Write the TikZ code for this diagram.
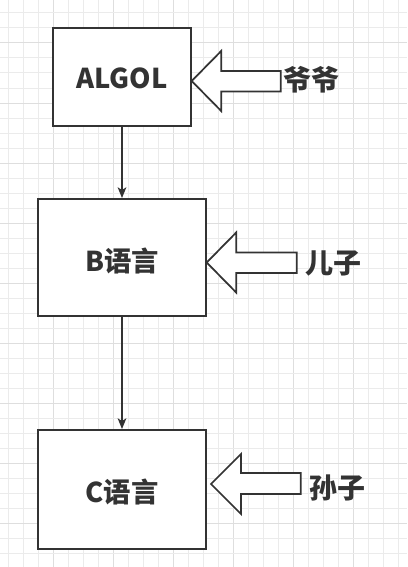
\documentclass[tikz,border=0pt]{standalone}
\usepackage{fontspec}
\newfontfamily\cjk{Noto Sans CJK SC}
\usetikzlibrary{arrows.meta}
\definecolor{ink}{HTML}{333333}
\definecolor{gridminor}{HTML}{EBEBEB}
\definecolor{gridmajor}{HTML}{DEDEDE}
\tikzset{
  box/.style={draw=ink, line width=1.5pt, fill=white, rectangle, inner sep=0pt},
  boxtxt/.style={font=\cjk\bfseries\fontsize{20.5}{24}\selectfont, text=ink, inner sep=0pt},
  conn/.style={draw=ink, line width=1.1pt, -{Stealth[length=8pt,width=6.5pt,inset=2pt]}},
  blk/.style={draw=ink, line width=1.3pt, fill=white, line join=miter},
  lbl/.style={font=\cjk\bfseries\fontsize{21}{24}\selectfont, text=ink, inner sep=0pt},
}
\begin{document}
\begin{tikzpicture}[x=0.75pt, y=-0.75pt]
\useasboundingbox (0,0) rectangle (407,567);
\fill[white] (0,0) rectangle (407,567);
% grid
\foreach \i in {0,...,26} {
  \pgfmathtruncatemacro{\m}{mod(\i,4)}
  \ifnum\m=3 \draw[gridmajor, line width=0.75pt] ({8+15*\i},0) -- ({8+15*\i},567);
  \else \draw[gridminor, line width=0.75pt] ({8+15*\i},0) -- ({8+15*\i},567); \fi
}
\foreach \j in {0,...,37} {
  \pgfmathtruncatemacro{\m}{mod(\j,4)}
  \ifnum\m=2 \draw[gridmajor, line width=0.75pt] (0,{13+15*\j}) -- (407,{13+15*\j});
  \else \draw[gridminor, line width=0.75pt] (0,{13+15*\j}) -- (407,{13+15*\j}); \fi
}
% boxes
\node[box, minimum width=103.5pt, minimum height=73.5pt] (algol) at (122,77) {};
\node[box, minimum width=126pt, minimum height=87.75pt] (b) at (122,257.5) {};
\node[box, minimum width=126pt, minimum height=89.25pt] (c) at (122,489.5) {};
\node[boxtxt] (algoltxt) at ([yshift=-0.75pt]algol.center) {ALGOL};
\node[boxtxt] (btxt) at ([yshift=-2.4pt]b.center) {B语言};
\node[boxtxt] (ctxt) at ([yshift=-1.7pt]c.center) {C语言};
% connectors
\draw[conn] (algol.south) -- (b.north);
\draw[conn] (b.south) -- (c.north);
% block arrows
\coordinate (ta) at (191.7,81);
\coordinate (tb) at (206.7,262.5);
\coordinate (tc) at (211,484);
\draw[blk] (ta) -- ++(29.5,-30) -- ++(0,20) -- ++(59.5,0) -- ++(0,20.5) -- ++(-59.5,0) -- ++(0,19.5) -- cycle;
\draw[blk] (tb) -- ++(29.5,-30) -- ++(0,20) -- ++(60.5,0) -- ++(0,20.5) -- ++(-60.5,0) -- ++(0,19.5) -- cycle;
\draw[blk] (tc) -- ++(30,-30) -- ++(0,19) -- ++(59.7,0) -- ++(0,21) -- ++(-59.7,0) -- ++(0,20) -- cycle;
% labels
\node[lbl] (ye) at (311.5,80) {爷爷};
\node[lbl] (er) at (333.3,263) {儿子};
\node[lbl] (sun) at (337,488) {孙子};
\end{tikzpicture}
\end{document}
